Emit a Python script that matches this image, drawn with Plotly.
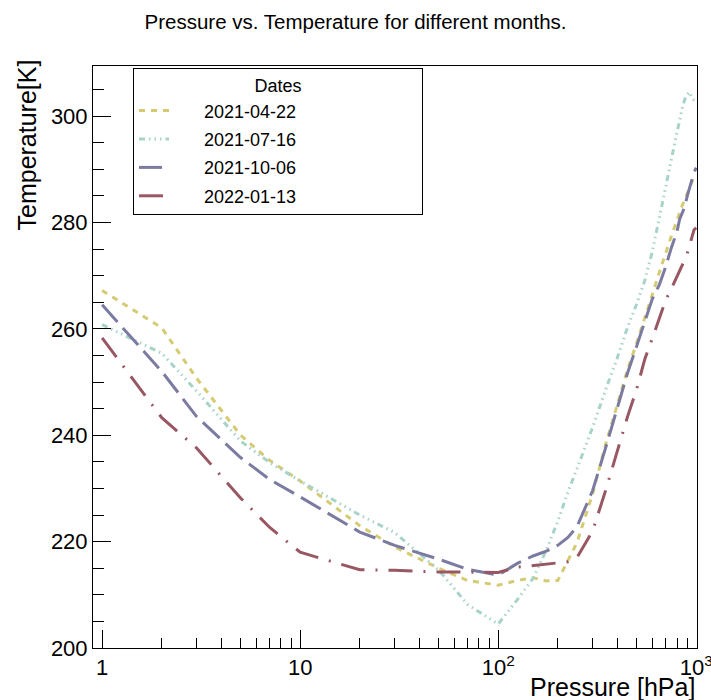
import plotly.graph_objects as go

# pressure levels [hPa] and temperatures [K]
pressure_hpa = [1, 2, 3, 5, 7, 10, 20, 30, 50, 70, 100, 125, 150, 175, 200, 225, 250,
                300, 350, 400, 450, 500, 550, 600, 650, 700, 750, 775, 800, 825, 850,
                875, 900, 925, 950, 975, 1000]

temp_2021_04_22 = [267.2, 260.2, 250.7, 240.0, 235.3, 231.4, 223.0, 219.0, 215.0, 212.7,
                   211.8, 212.7, 213.2, 212.6, 212.7, 216.4, 219.8, 229.0, 238.5, 245.8,
                   252.3, 257.3, 261.9, 266.4, 270.5, 274.3, 277.5, 279.0, 280.5, 282.0,
                   283.2, 284.2, 285.5, 286.6, 287.6, 288.4, 289.0]

temp_2021_07_16 = [260.8, 255.4, 248.3, 238.9, 234.9, 231.4, 225.0, 221.7, 214.7, 208.2,
                   204.5, 209.1, 213.1, 218.4, 223.8, 229.3, 233.7, 241.5, 248.7, 254.6,
                   260.3, 264.6, 269.1, 274.5, 280.7, 286.7, 292.3, 294.8, 297.0, 299.1,
                   301.5, 303.1, 304.0, 304.5, 303.5, 303.0, 302.7]

temp_2021_10_06 = [264.5, 252.0, 243.5, 235.8, 231.7, 228.4, 221.8, 219.3, 216.7, 214.8,
                   213.7, 215.9, 217.3, 218.2, 219.3, 220.8, 222.8, 229.6, 237.8, 245.4,
                   251.7, 256.7, 261.3, 265.6, 268.2, 271.6, 275.3, 276.9, 278.3, 280.6,
                   281.9, 282.9, 284.9, 286.5, 287.7, 289.4, 290.3]

temp_2022_01_13 = [258.3, 243.3, 237.6, 228.2, 222.7, 218.0, 214.7, 214.6, 214.3, 214.2,
                   214.2, 215.2, 215.5, 215.7, 215.9, 216.2, 217.0, 222.0, 229.8, 237.0,
                   243.5, 248.6, 254.3, 258.2, 262.1, 265.3, 267.6, 268.7, 269.7, 270.8,
                   271.9, 273.0, 274.1, 275.5, 277.2, 278.6, 279.0]

dates = ["2021-04-22", "2021-07-16", "2021-10-06", "2022-01-13"]

x_major = [1, 10, 100, 1000]
x_major_text = ["1", "10", "10<sup>2</sup>", "10<sup>3</sup>"]
x_minor = [m * d for d in (1, 10, 100) for m in range(2, 10)]
y_major = [200, 220, 240, 260, 280, 300]

FONT = "Liberation Sans, Arial, Helvetica, sans-serif"
NBSP = "\u00a0"

styles = [
    ("#d5cb74", "6px,6px"),
    ("#a7d3c9", "6px,4px,1.5px,4px,1.5px,4px,1.5px,4px"),
    ("#7b7ba2", "23px,8px"),
    ("#985762", "24px,11px,2px,11px"),
]
series = [temp_2021_04_22, temp_2021_07_16, temp_2021_10_06, temp_2022_01_13]

fig = go.Figure()
for name, temps, (color, dash) in zip(dates, series, styles):
    # pad the legend label so the box is as wide as in the original
    fig.add_trace(go.Scatter(
        x=pressure_hpa,
        y=temps,
        mode="lines",
        name=NBSP * 6 + name + NBSP * 24,
        legendgroup=name,
        line=dict(color=color, width=3, dash=dash),
    ))

fig.update_layout(
    width=711,
    height=700,
    margin=dict(l=93, r=14, t=66, b=52),
    paper_bgcolor="white",
    plot_bgcolor="white",
    font=dict(family=FONT, color="black"),
    title=dict(
        text="Pressure vs. Temperature for different months.",
        x=0.5, xref="container", xanchor="center",
        y=1 - 22 / 700, yref="container", yanchor="middle",
        font=dict(size=20.5, family=FONT),
    ),
    showlegend=True,
    legend=dict(
        x=(133 - 93) / 604, y=(648 - 68) / 582,
        xanchor="left", yanchor="top",
        bordercolor="black", borderwidth=1,
        bgcolor="white",
        font=dict(size=18, family=FONT),
        title=dict(text="Dates", side="top center", font=dict(size=18, family=FONT)),
        traceorder="grouped",
        tracegroupgap=2,
    ),
    xaxis=dict(
        type="log",
        range=[-0.046, 3.004],
        tickmode="array",
        tickvals=x_major,
        ticktext=x_major_text,
        ticks="inside",
        ticklen=18,
        tickcolor="black",
        tickfont=dict(size=22, family=FONT),
        ticklabeloverflow="allow",
        automargin=False,
        minor=dict(tickmode="array", tickvals=x_minor, ticks="inside",
                   ticklen=10, tickcolor="black"),
        showgrid=False,
        zeroline=False,
        showline=True,
        linecolor="black",
        linewidth=1,
        mirror=True,
    ),
    yaxis=dict(
        range=[200, 309.4],
        tickmode="array",
        tickvals=y_major,
        ticks="inside",
        ticklen=18,
        tickcolor="black",
        tickfont=dict(size=22, family=FONT),
        automargin=False,
        minor=dict(dtick=5, ticks="inside", ticklen=11, tickcolor="black"),
        showgrid=False,
        zeroline=False,
        showline=True,
        linecolor="black",
        linewidth=1,
        mirror=True,
    ),
    annotations=[
        dict(text="Temperature[K]", textangle=-90,
             xref="paper", yref="paper",
             x=(26 - 93) / 604, y=1 + 8 / 582,
             xanchor="center", yanchor="top",
             showarrow=False, font=dict(size=25, family=FONT)),
        dict(text="Pressure [hPa]",
             xref="paper", yref="paper",
             x=1, y=-(687 - 648) / 582,
             xanchor="right", yanchor="middle",
             showarrow=False, font=dict(size=25, family=FONT)),
    ],
)

# the page's default body margin would shift the whole figure by 8px
fig.write_html(
    "out.html",
    config={"displayModeBar": False},
    post_script="document.body.style.margin='0px';",
)
